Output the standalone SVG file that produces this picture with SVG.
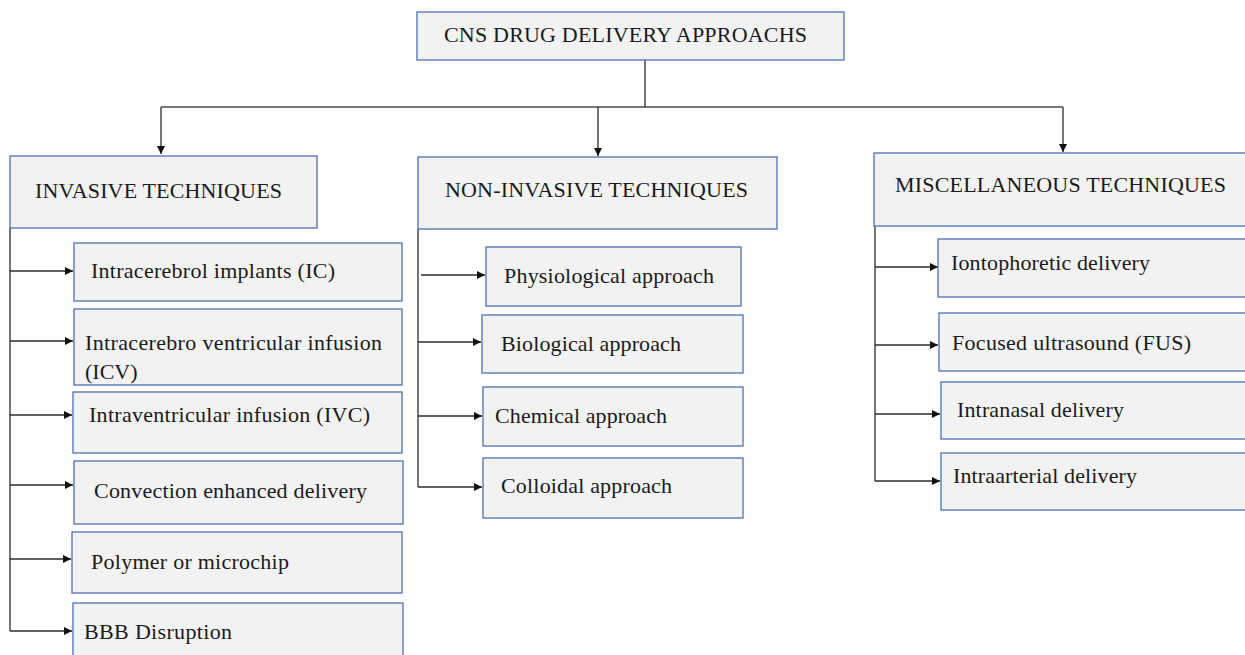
<svg xmlns="http://www.w3.org/2000/svg" width="1245" height="655" viewBox="0 0 1245 655">
  <style>
    .box { fill: #f2f2f2; stroke: #4f6fb0; stroke-width: 1.3; }
    .lbl { font-family: "Liberation Serif", "Times New Roman", serif; font-size: 22px; fill: #1a1a1a; }
    .wire { fill: none; stroke: #2b2b2b; stroke-width: 1.3; }
    .bus { fill: none; stroke: #4a4a4a; stroke-width: 1.6; }
  </style>
  <defs>
    <marker id="tip" markerUnits="userSpaceOnUse" markerWidth="9" markerHeight="8" refX="8" refY="4" orient="auto">
      <path d="M0,0 L8,4 L0,8 z" fill="#111"/>
    </marker>
  </defs>
  <rect width="1245" height="655" fill="#ffffff"/>

  <!-- connectors -->
  <g id="connectors">
    <path class="wire" d="M645,60 V107"/>
    <path class="bus" d="M161,107 H1063"/>
    <path class="wire" d="M161,107 V154" marker-end="url(#tip)"/>
    <path class="wire" d="M598,107 V156" marker-end="url(#tip)"/>
    <path class="wire" d="M1063,107 V152" marker-end="url(#tip)"/>

    <!-- invasive branch -->
    <path class="wire" d="M10,228 V631"/>
    <path class="wire" d="M10,271 H73" marker-end="url(#tip)"/>
    <path class="wire" d="M10,341 H73" marker-end="url(#tip)"/>
    <path class="wire" d="M10,415 H72" marker-end="url(#tip)"/>
    <path class="wire" d="M10,485 H73" marker-end="url(#tip)"/>
    <path class="wire" d="M10,559 H71" marker-end="url(#tip)"/>
    <path class="wire" d="M10,631 H72" marker-end="url(#tip)"/>

    <!-- non-invasive branch -->
    <path class="wire" d="M418,229 V487"/>
    <path class="wire" d="M421,275 H485" marker-end="url(#tip)"/>
    <path class="wire" d="M418,342 H481" marker-end="url(#tip)"/>
    <path class="wire" d="M418,416 H482" marker-end="url(#tip)"/>
    <path class="wire" d="M418,487 H482" marker-end="url(#tip)"/>

    <!-- miscellaneous branch -->
    <path class="wire" d="M875,226 V481"/>
    <path class="wire" d="M875,267 H938" marker-end="url(#tip)"/>
    <path class="wire" d="M875,345 H938" marker-end="url(#tip)"/>
    <path class="wire" d="M875,414 H940" marker-end="url(#tip)"/>
    <path class="wire" d="M875,481 H940" marker-end="url(#tip)"/>
  </g>

  <!-- root -->
  <g id="root">
    <rect class="box" x="417" y="12" width="427" height="48"/>
    <text class="lbl" x="444" y="42" textLength="363">CNS DRUG DELIVERY APPROACHS</text>
  </g>

  <!-- category headers -->
  <g id="invasive">
    <rect class="box" x="10" y="156" width="307" height="72"/>
    <text class="lbl" x="35" y="198" textLength="247">INVASIVE  TECHNIQUES</text>
  </g>
  <g id="non-invasive">
    <rect class="box" x="418" y="157" width="359" height="72"/>
    <text class="lbl" x="445" y="197" textLength="303">NON-INVASIVE  TECHNIQUES</text>
  </g>
  <g id="miscellaneous">
    <rect class="box" x="874" y="153" width="372" height="73"/>
    <text class="lbl" x="895" y="192" textLength="331">MISCELLANEOUS  TECHNIQUES</text>
  </g>

  <!-- invasive techniques -->
  <g id="ic">
    <rect class="box" x="74" y="243" width="328" height="58"/>
    <text class="lbl" x="91" y="278" textLength="244">Intracerebrol  implants (IC)</text>
  </g>
  <g id="icv">
    <rect class="box" x="74" y="309" width="328" height="76"/>
    <text class="lbl" x="85" y="350" textLength="297">Intracerebro  ventricular  infusion</text>
    <text class="lbl" x="85" y="379">(ICV)</text>
  </g>
  <g id="ivc">
    <rect class="box" x="73" y="392" width="329" height="61"/>
    <text class="lbl" x="89" y="422" textLength="281">Intraventricular  infusion (IVC)</text>
  </g>
  <g id="ced">
    <rect class="box" x="74" y="461" width="329" height="63"/>
    <text class="lbl" x="94" y="498" textLength="273">Convection  enhanced  delivery</text>
  </g>
  <g id="polymer">
    <rect class="box" x="72" y="532" width="330" height="61"/>
    <text class="lbl" x="91" y="569" textLength="198">Polymer  or microchip</text>
  </g>
  <g id="bbb">
    <rect class="box" x="73" y="603" width="330" height="60"/>
    <text class="lbl" x="84" y="639" textLength="148">BBB Disruption</text>
  </g>

  <!-- non-invasive techniques -->
  <g id="physiological">
    <rect class="box" x="486" y="247" width="255" height="59"/>
    <text class="lbl" x="504" y="283" textLength="210">Physiological  approach</text>
  </g>
  <g id="biological">
    <rect class="box" x="482" y="315" width="261" height="58"/>
    <text class="lbl" x="501" y="351" textLength="180">Biological approach</text>
  </g>
  <g id="chemical">
    <rect class="box" x="483" y="387" width="260" height="59"/>
    <text class="lbl" x="495" y="423" textLength="172">Chemical  approach</text>
  </g>
  <g id="colloidal">
    <rect class="box" x="483" y="458" width="260" height="60"/>
    <text class="lbl" x="501" y="493" textLength="171">Colloidal approach</text>
  </g>

  <!-- miscellaneous techniques -->
  <g id="iontophoretic">
    <rect class="box" x="938" y="239" width="308" height="58"/>
    <text class="lbl" x="951" y="270" textLength="199">Iontophoretic  delivery</text>
  </g>
  <g id="fus">
    <rect class="box" x="939" y="313" width="307" height="58"/>
    <text class="lbl" x="952" y="350" textLength="239">Focused ultrasound  (FUS)</text>
  </g>
  <g id="intranasal">
    <rect class="box" x="941" y="382" width="305" height="57"/>
    <text class="lbl" x="957" y="417" textLength="167">Intranasal  delivery</text>
  </g>
  <g id="intraarterial">
    <rect class="box" x="941" y="453" width="305" height="57"/>
    <text class="lbl" x="953" y="483" textLength="184">Intraarterial  delivery</text>
  </g>
</svg>
